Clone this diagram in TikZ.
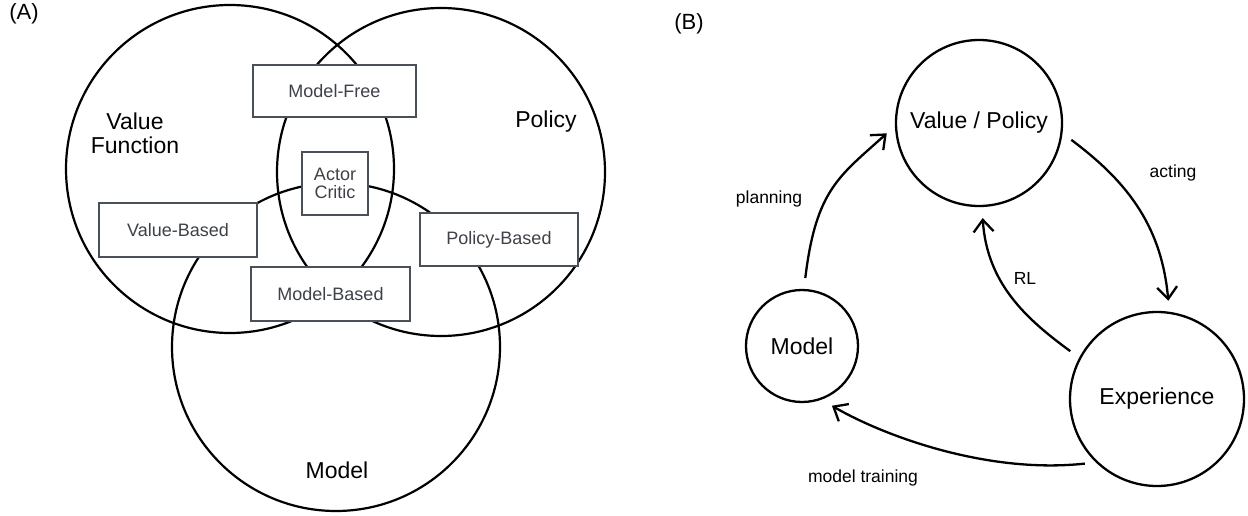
\documentclass[tikz,border=0pt]{standalone}
\usepackage{fontspec}
\setmainfont{Liberation Sans}
\usetikzlibrary{arrows.meta}
\definecolor{boxgray}{RGB}{74,80,88}
\definecolor{textgray}{RGB}{62,66,72}

\begin{document}
\begin{tikzpicture}[x=1pt,y=-1pt,
  venn/.style={circle,draw,line width=2.2pt,minimum size=328pt,inner sep=0pt},
  tag/.style={font=\fontsize{23}{24}\selectfont,align=center},
  method/.style={draw=boxgray,line width=2.2pt,fill=white,text=textgray,
    font=\fontsize{18}{18.5}\selectfont,align=center,inner sep=0pt},
  bubble/.style={circle,draw,line width=2.3pt,inner sep=0pt,
    font=\fontsize{23}{27}\selectfont},
  flow/.style={line width=2.3pt,-{Straight Barb[length=12pt,width=20pt]},
    shorten <=11pt,shorten >=11pt},
  lbl/.style={font=\fontsize{17.5}{21}\selectfont}]
\useasboundingbox (0,0) rectangle (1248,516);
% Panel labels
\node[font=\fontsize{22}{24}\selectfont] (pa) at (24,14) {(A)};
\node[font=\fontsize{22}{24}\selectfont] (pb) at (689,24) {(B)};
% Draw the three sets
\node[venn] (vf) at (230,169) {};
\node[venn] (po) at (441,172) {};
\node[venn] (mo) at (336,347) {};
\node[tag] (vft) at (135,133) {Value\\Function};
\node[tag] (pot) at (546,122) {Policy};
\node[tag] (mot) at (337,470) {Model};
% Method boxes
\node[method,minimum width=163pt,minimum height=52pt] (mf) at (334.5,91) {Model-Free};
\node[method,minimum width=66pt,minimum height=63pt] (ac) at (335,183.5) {Actor\\Critic};
\node[method,minimum width=158pt,minimum height=54pt] (vb) at (178,230) {Value-Based};
\node[method,minimum width=158pt,minimum height=53pt] (pbx) at (499,239.5) {Policy-Based};
\node[method,minimum width=159pt,minimum height=54pt] (mb) at (330.5,294) {Model-Based};
% Learning cycle
\node[bubble,minimum size=166pt] (vp) at (979,123) {Value / Policy};
\node[bubble,minimum size=112pt] (md) at (802,346) {Model};
\node[bubble,minimum size=174pt] (xp) at (1157,399) {Experience};
% Arrows
\draw[flow] (md.88) .. controls +(12,-100) and +(-55,50) .. (vp.182);
\draw[flow] (vp.-7) .. controls +(60,45) and +(-8,-90) .. (xp.82);
\draw[flow] (xp.152) .. controls +(-55,-40) and +(5,75) .. (vp.-88);
\draw[flow,shorten >=12pt] (xp.226) .. controls +(-110,12) and +(60,35) .. (md.-70);
% Arrow labels
\node[lbl] (pl) at (769,199) {planning};
\node[lbl] (act) at (1173,173) {acting};
\node[lbl] (rl) at (1025,278) {RL};
\node[lbl] (mt) at (863,478) {model training};
\end{tikzpicture}
\end{document}
